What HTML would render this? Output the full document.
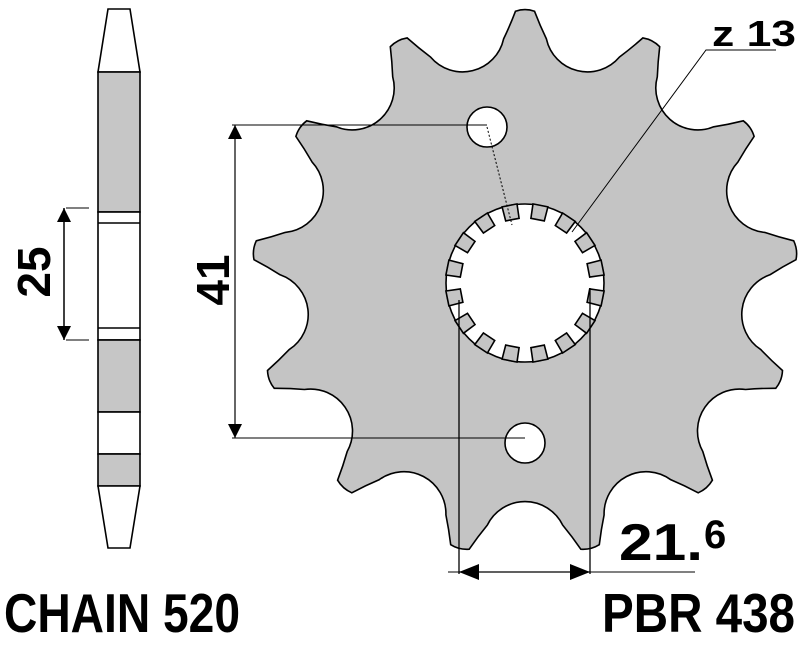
<!DOCTYPE html>
<html><head><meta charset="utf-8"><style>
html,body{margin:0;padding:0;background:#fff;width:800px;height:648px;overflow:hidden}
svg{display:block}
text{font-family:"Liberation Sans",sans-serif;font-weight:bold;fill:#000}
</style></head><body>
<svg id="s" width="800" height="648" viewBox="0 0 800 648" xmlns="http://www.w3.org/2000/svg">
<defs>
<marker id="ah" viewBox="0 0 10 10" refX="10" refY="5" markerWidth="14" markerHeight="14" markerUnits="userSpaceOnUse" orient="auto-start-reverse"><path d="M0,0 L10,5 L0,10 z" fill="#000"/></marker>
<marker id="ah2" viewBox="0 0 10 10" refX="10" refY="5" markerWidth="20" markerHeight="20" markerUnits="userSpaceOnUse" orient="auto-start-reverse"><path d="M0,1 L10,5 L0,9 z" fill="#000"/></marker>
</defs>
<g stroke="#000" stroke-width="1.6">
<polygon points="108,9 130,9 140,72 98,72" fill="#fff"/>
<rect x="98" y="72" width="42" height="140" fill="#c6c6c6"/>
<rect x="98" y="212" width="42" height="128" fill="#fff"/>
<line x1="98" y1="223" x2="140" y2="223"/>
<line x1="98" y1="328" x2="140" y2="328"/>
<rect x="98" y="340" width="42" height="72" fill="#c6c6c6"/>
<rect x="98" y="412" width="42" height="42" fill="#fff"/>
<rect x="98" y="454" width="42" height="32" fill="#c6c6c6"/>
<polygon points="98,486 140,486 130,548 108,548" fill="#fff"/>
</g>
<g stroke="#000" stroke-width="1">
<line x1="66" y1="208" x2="89" y2="208"/>
<line x1="66" y1="340" x2="89" y2="340"/>
</g>
<line x1="64" y1="208" x2="64" y2="340" stroke="#000" stroke-width="1.5" marker-start="url(#ah)" marker-end="url(#ah)"/>
<text x="0" y="0" font-size="46" transform="translate(50,272) rotate(-90)" text-anchor="middle">25</text>

<path id="spr" fill="#c4c4c4" stroke="#000" stroke-width="1.6"/>
<circle cx="525" cy="283" r="79" fill="#fff" stroke="#000" stroke-width="1.6"/>
<g id="notch" fill="#c4c4c4" stroke="#000" stroke-width="1.6"></g>
<circle cx="487" cy="127" r="20" fill="#fff" stroke="#000" stroke-width="1.6"/>
<circle cx="525" cy="443" r="20" fill="#fff" stroke="#000" stroke-width="1.6"/>
<line x1="487" y1="127" x2="512" y2="225" stroke="#000" stroke-width="1" stroke-dasharray="2,2"/>

<g stroke="#000" stroke-width="1">
<line x1="232" y1="125" x2="487" y2="125"/>
<line x1="232" y1="438" x2="525" y2="438"/>
</g>
<line x1="235" y1="125" x2="235" y2="438" stroke="#000" stroke-width="1.2" marker-start="url(#ah)" marker-end="url(#ah)"/>
<text x="0" y="0" font-size="46" transform="translate(229,280) rotate(-90)" text-anchor="middle">41</text>

<polyline points="572,232 706,50 776,50" fill="none" stroke="#000" stroke-width="1"/>
<text x="712" y="46" font-size="36" textLength="84" lengthAdjust="spacingAndGlyphs">z 13</text>

<g stroke="#000" stroke-width="1.3">
<line x1="459" y1="300" x2="459" y2="574"/>
<line x1="590" y1="288" x2="590" y2="574"/>
<line x1="590" y1="572" x2="695" y2="572" stroke-width="1"/>
<line x1="448" y1="572" x2="459" y2="572" stroke-width="1"/>
</g>
<line x1="459" y1="572" x2="590" y2="572" stroke="#000" stroke-width="1.3" marker-start="url(#ah2)" marker-end="url(#ah2)"/>
<text x="619" y="560" font-size="52" textLength="84" lengthAdjust="spacingAndGlyphs">21.</text>
<text x="704" y="548" font-size="40">6</text>

<text x="4" y="632" font-size="55" textLength="236" lengthAdjust="spacingAndGlyphs">CHAIN 520</text>
<text x="602" y="632" font-size="55" textLength="193" lengthAdjust="spacingAndGlyphs">PBR 438</text>
</svg>
<script>
(function(){
var cx=525,cy=283,N=13,step=360/N,d='';
function P(r,a){a=a*Math.PI/180;return (cx+r*Math.cos(a)).toFixed(1)+','+(cy+r*Math.sin(a)).toFixed(1);}
for(var k=0;k<N;k++){
 var t=-90+k*step;
 d+=(k==0?'M':'L')+P(272,t-2)+' Q'+P(275,t)+' '+P(272,t+2);
 d+=' Q'+P(258,t+3.3)+' '+P(245,t+5);
 d+=' A42,42 0 0 0 '+P(245,t+step-5);
 d+=' Q'+P(258,t+step-3.3)+' '+P(272,t+step-2)+' ';
}
d+='Z';
document.getElementById('spr').setAttribute('d',d);
var g=document.getElementById('notch'),h='';
for(var i=0;i<16;i++){
 var a=-90+11.25+i*22.5;
 h+='<polygon points="'+P(79.5,a-5.5)+' '+P(65,a-6)+' '+P(65,a+6)+' '+P(79.5,a+5.5)+'"/>';
}
g.innerHTML=h;
})();
</script>
</body></html>
